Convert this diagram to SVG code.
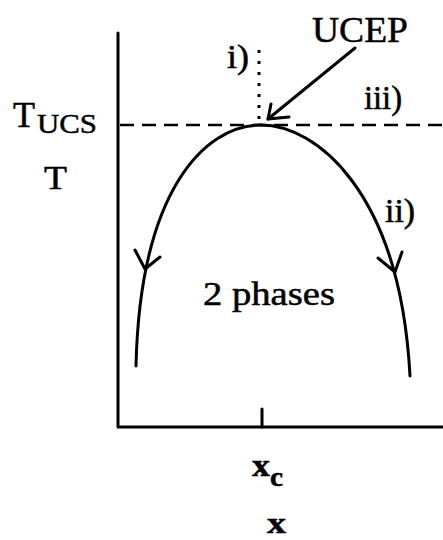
<svg xmlns="http://www.w3.org/2000/svg" width="443" height="540" viewBox="0 0 443 540">
<style>
.ln{fill:none;stroke:#000;stroke-width:3;stroke-linecap:round;stroke-linejoin:round}
.t{font-family:"Liberation Serif","Times New Roman",serif;fill:#000;stroke:#000;stroke-width:0.5}
.b{font-weight:bold}
</style>
<rect width="443" height="540" fill="#fff"/>
<g id="axes">
<path class="ln" d="M118,33 V427 H443"/>
<path class="ln" d="M262,409 V427"/>
</g>
<g id="connectors">
<path d="M120,125 H443" fill="none" stroke="#000" stroke-width="2.5" stroke-dasharray="14 8"/>
<path d="M259,50 V123" fill="none" stroke="#000" stroke-width="3" stroke-dasharray="3 8"/>
<path class="ln" d="M261,125 C205,125 140,190 136,366"/>
<path class="ln" d="M261,125 C315,125 400,190 410,376"/>
<path class="ln" d="M135,250 L145,269 L160,257"/>
<path class="ln" d="M378,258 L395,272 L402,252"/>
<path class="ln" d="M355,48 L268,119"/>
<path class="ln" d="M271,104 L268,119 L289,117"/>
</g>
<g id="labels">
<text class="t" font-size="36"><tspan x="13" y="127" textLength="22" lengthAdjust="spacingAndGlyphs">T</tspan><tspan x="37" y="133" font-size="28" textLength="60" lengthAdjust="spacingAndGlyphs">UCS</tspan></text>
<text class="t" x="44" y="189" font-size="33" textLength="23" lengthAdjust="spacingAndGlyphs">T</text>
<text class="t" x="312" y="42" font-size="36" textLength="96" lengthAdjust="spacingAndGlyphs">UCEP</text>
<text class="t" x="227" y="68" font-size="33" textLength="22" lengthAdjust="spacingAndGlyphs">i)</text>
<text class="t" x="364" y="109" font-size="33" textLength="38" lengthAdjust="spacingAndGlyphs">iii)</text>
<text class="t" x="385" y="222" font-size="33" textLength="30" lengthAdjust="spacingAndGlyphs">ii)</text>
<text class="t" x="203" y="305" font-size="33" textLength="132" lengthAdjust="spacingAndGlyphs">2 phases</text>
<text class="t b" font-size="32"><tspan x="252" y="476" textLength="18" lengthAdjust="spacingAndGlyphs">x</tspan><tspan x="270" y="486" font-size="27" textLength="13" lengthAdjust="spacingAndGlyphs">c</tspan></text>
<text class="t b" x="267" y="533" font-size="30" textLength="19" lengthAdjust="spacingAndGlyphs">x</text>
</g>
</svg>
